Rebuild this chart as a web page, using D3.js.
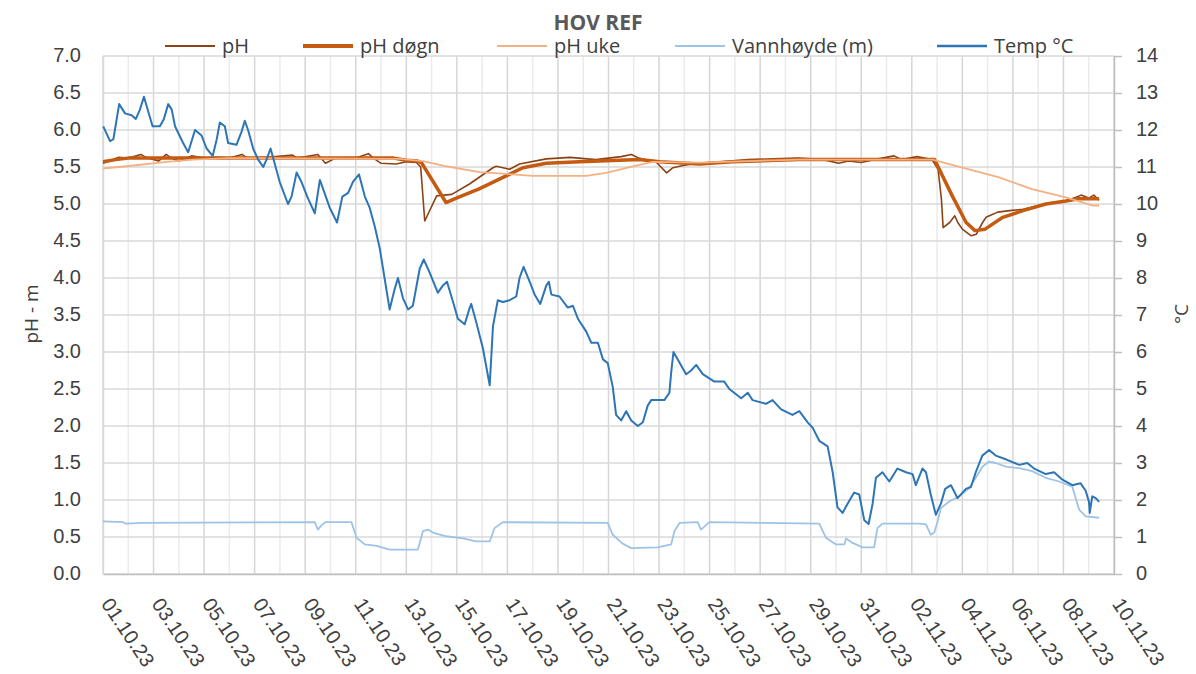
<!DOCTYPE html>
<html>
<head>
<meta charset="utf-8">
<script src="https://cdn.jsdelivr.net/npm/d3@7"></script>
<style>
  body { margin: 0; background: #fff; }
  svg { display: block; font-family: "Open Sans", sans-serif; }
</style>
</head>
<body>
<svg id="chart" width="1196" height="674"></svg>
<script>
// series: [days after 01.10.23 00:00, value]
var tempData = [
  [0.01,12.1],[0.28,11.7],[0.41,11.75],[0.64,12.7],[0.87,12.45],[1.13,12.4],[1.30,12.3],[1.46,12.55],
  [1.62,12.9],[1.79,12.5],[1.96,12.1],[2.25,12.1],[2.41,12.3],[2.58,12.7],[2.72,12.55],[2.85,12.1],
  [3.17,11.65],[3.37,11.4],[3.64,12.0],[3.90,11.85],[4.10,11.5],[4.34,11.3],[4.50,11.75],[4.62,12.2],
  [4.82,12.1],[4.95,11.65],[5.28,11.6],[5.48,11.95],[5.61,12.25],[5.74,12.0],[5.94,11.5],[6.14,11.2],
  [6.34,11.0],[6.47,11.2],[6.63,11.5],[6.73,11.25],[6.99,10.6],[7.32,10.0],[7.46,10.2],[7.66,10.85],
  [7.85,10.6],[8.11,10.15],[8.38,9.75],[8.58,10.65],[8.71,10.4],[8.97,9.9],[9.26,9.5],[9.47,10.2],
  [9.70,10.3],[9.89,10.6],[10.13,10.8],[10.36,10.2],[10.55,9.9],[10.75,9.4],[10.95,8.8],[11.08,8.25],
  [11.34,7.15],[11.54,7.7],[11.67,8.0],[11.87,7.45],[12.07,7.15],[12.26,7.25],[12.53,8.25],[12.69,8.5],
  [12.92,8.15],[13.25,7.6],[13.45,7.8],[13.61,7.9],[13.85,7.35],[14.04,6.9],[14.31,6.75],[14.51,7.2],
  [14.57,7.3],[14.77,6.8],[15.03,6.1],[15.30,5.1],[15.43,6.7],[15.62,7.4],[15.82,7.35],[16.09,7.4],
  [16.35,7.5],[16.48,8.0],[16.64,8.3],[16.88,7.9],[17.08,7.55],[17.30,7.3],[17.54,7.8],[17.64,7.9],
  [17.74,7.55],[18.06,7.5],[18.39,7.2],[18.59,7.25],[18.79,6.9],[19.12,6.55],[19.32,6.25],[19.58,6.25],
  [19.78,5.8],[19.97,5.7],[20.17,5.05],[20.30,4.3],[20.50,4.15],[20.70,4.4],[20.90,4.15],[21.16,4.0],
  [21.36,4.1],[21.55,4.55],[21.69,4.7],[22.21,4.7],[22.41,4.9],[22.48,5.45],[22.57,6.0],[22.74,5.8],
  [23.07,5.4],[23.27,5.5],[23.47,5.65],[23.73,5.4],[24.19,5.2],[24.58,5.2],[24.78,5.0],[25.25,4.75],
  [25.51,4.9],[25.70,4.7],[26.23,4.6],[26.49,4.7],[26.83,4.45],[27.28,4.3],[27.55,4.4],[27.88,4.1],
  [28.08,3.95],[28.34,3.6],[28.67,3.45],[28.87,2.75],[29.06,1.8],[29.26,1.65],[29.46,1.9],[29.72,2.2],
  [29.92,2.15],[30.12,1.45],[30.29,1.35],[30.45,1.9],[30.58,2.6],[30.84,2.75],[31.11,2.5],[31.43,2.85],
  [31.77,2.75],[32.03,2.7],[32.16,2.4],[32.42,2.85],[32.56,2.75],[32.75,2.15],[32.95,1.6],[33.15,1.9],
  [33.32,2.3],[33.55,2.4],[33.81,2.05],[34.14,2.3],[34.34,2.35],[34.53,2.75],[34.79,3.2],[35.06,3.35],
  [35.32,3.2],[35.72,3.1],[36.25,2.95],[36.57,3.0],[36.84,2.85],[37.30,2.7],[37.63,2.75],[37.96,2.55],
  [38.35,2.4],[38.68,2.45],[38.88,2.25],[39.01,1.95],[39.04,1.65],[39.14,2.1],[39.28,2.05],[39.41,1.95]
];

var waterData = [
  [0,0.71],[0.8,0.70],[0.9,0.68],[1.6,0.69],[8.38,0.70],[8.5,0.60],[8.65,0.66],[8.8,0.70],[9.83,0.70],
  [10.03,0.49],[10.36,0.40],[10.83,0.38],[11.34,0.33],[12.46,0.33],[12.66,0.58],[12.86,0.60],
  [13.05,0.56],[13.58,0.51],[14.24,0.48],[14.77,0.44],[15.30,0.44],[15.49,0.62],[15.82,0.70],
  [19.97,0.69],[20.17,0.53],[20.56,0.41],[20.90,0.35],[21.95,0.36],[22.48,0.40],[22.61,0.58],
  [22.81,0.69],[23.53,0.70],[23.66,0.60],[23.99,0.70],[28.34,0.68],[28.60,0.49],[29.00,0.40],
  [29.33,0.40],[29.40,0.48],[29.66,0.42],[30.05,0.36],[30.51,0.36],[30.64,0.62],[30.84,0.68],
  [32.29,0.68],[32.56,0.67],[32.75,0.53],[32.89,0.56],[33.02,0.71],[33.15,0.89],[33.48,0.98],
  [33.88,1.05],[34.27,1.16],[34.53,1.30],[34.79,1.45],[35.06,1.52],[35.32,1.50],[35.72,1.45],
  [36.25,1.43],[36.76,1.39],[37.30,1.30],[37.83,1.25],[38.35,1.18],[38.48,1.03],[38.62,0.87],
  [38.88,0.78],[39.41,0.76]
];

var phData = [
  [0,5.55],[0.4,5.6],[0.6,5.63],[1.0,5.62],[1.5,5.67],[1.7,5.63],[2.2,5.58],[2.5,5.67],[2.7,5.62],
  [3.0,5.58],[3.5,5.65],[4.0,5.62],[4.5,5.63],[5.0,5.62],[5.5,5.67],[5.7,5.62],[6.5,5.63],[7.5,5.66],
  [7.7,5.62],[8.5,5.67],[8.8,5.55],[9.2,5.62],[10.0,5.62],[10.5,5.68],[10.7,5.62],[11.0,5.55],
  [11.6,5.54],[12.0,5.57],[12.4,5.56],[12.57,5.5],[12.73,4.77],[13.2,5.11],[13.8,5.13],[14.5,5.27],
  [15.43,5.49],[15.56,5.51],[16.09,5.47],[16.48,5.54],[17.54,5.61],[18.48,5.63],[19.5,5.6],
  [20.5,5.64],[20.9,5.67],[21.2,5.62],[21.9,5.56],[22.3,5.42],[22.55,5.49],[22.95,5.52],[23.5,5.55],
  [24.5,5.57],[25.5,5.6],[26.5,5.61],[27.5,5.62],[28.5,5.6],[29.1,5.55],[29.5,5.58],[30.0,5.56],
  [30.5,5.6],[31.3,5.65],[31.6,5.6],[32.2,5.64],[32.8,5.6],[33.04,5.47],[33.17,5.07],[33.24,4.68],
  [33.5,4.75],[33.7,4.84],[33.82,4.75],[34.0,4.66],[34.35,4.57],[34.55,4.59],[34.8,4.75],[34.94,4.82],
  [35.07,4.84],[35.4,4.89],[35.87,4.91],[36.4,4.93],[37.3,5.0],[38.1,5.04],[38.5,5.09],[38.7,5.12],
  [39.0,5.08],[39.2,5.12],[39.41,5.05]
];

var phDayData = [
  [0,5.57],[0.5,5.6],[1.0,5.62],[11.5,5.62],[12.0,5.59],[12.45,5.58],[12.6,5.56],[13.57,5.02],
  [14.05,5.09],[14.86,5.20],[15.95,5.38],[16.61,5.49],[17.54,5.55],[18.85,5.57],[21.23,5.60],
  [22.02,5.57],[23.6,5.54],[24.9,5.57],[27.55,5.60],[32.9,5.60],[33.6,5.11],[34.15,4.75],[34.5,4.64],
  [34.9,4.66],[35.6,4.82],[36.4,4.91],[37.3,5.00],[38.1,5.04],[38.6,5.07],[39.41,5.07]
];

var phWeekData = [
  [0,5.48],[0.93,5.51],[2.52,5.57],[3.57,5.60],[5,5.62],[11.74,5.61],[12.66,5.58],[13.58,5.51],
  [14.9,5.43],[16.21,5.40],[17.0,5.38],[19.12,5.38],[19.91,5.42],[20.96,5.51],[21.75,5.57],
  [23.6,5.56],[27.55,5.60],[32.82,5.60],[35.45,5.36],[36.76,5.20],[38.09,5.09],[39.14,4.98],[39.41,4.98]
];

var leftTicks = [0, 0.5, 1, 1.5, 2, 2.5, 3, 3.5, 4, 4.5, 5, 5.5, 6, 6.5, 7];
var rightTicks = [0, 1, 2, 3, 4, 5, 6, 7, 8, 9, 10, 11, 12, 13, 14];

var series = [
  { name: "pH", data: phData, axis: "L", color: "#8a4316", width: 1.6, legendWidth: 2 },
  { name: "pH døgn", data: phDayData, axis: "L", color: "#c55a11", width: 3.5, legendWidth: 4 },
  { name: "pH uke", data: phWeekData, axis: "L", color: "#f4b183", width: 1.8, legendWidth: 2 },
  { name: "Vannhøyde (m)", data: waterData, axis: "L", color: "#9dc3e6", width: 1.8, legendWidth: 2 },
  { name: "Temp °C", data: tempData, axis: "R", color: "#2e75b6", width: 2, legendWidth: 2.5 }
];
var legendX = [165, 303, 497, 675, 937];

var start = new Date(Date.UTC(2023, 9, 1));
var end = new Date(Date.UTC(2023, 10, 10));
var toDate = function (d) { return new Date(start.getTime() + d * 864e5); };

var svg = d3.select("#chart");
var plotLeft = 103, plotRight = 1114, plotTop = 56, plotBottom = 574;

var x = d3.scaleUtc().domain([start, end]).range([plotLeft, plotRight]);
var yL = d3.scaleLinear().domain([0, 7]).range([plotBottom, plotTop]);
var yR = d3.scaleLinear().domain([0, 14]).range([plotBottom, plotTop]);

// gridlines: every day vertical, label days slightly darker
var days = d3.utcDay.range(start, d3.utcDay.offset(end, 1));
svg.append("g")
  .selectAll("line")
  .data(days).enter()
  .append("line")
  .attr("x1", function (d) { return x(d); })
  .attr("x2", function (d) { return x(d); })
  .attr("y1", plotTop)
  .attr("y2", plotBottom)
  .attr("stroke", function (d, i) { return i % 2 ? "#ebebeb" : "#d6d6d6"; })
  .attr("stroke-width", 1.5);

svg.append("g")
  .selectAll("line")
  .data(leftTicks).enter()
  .append("line")
  .attr("x1", plotLeft)
  .attr("x2", plotRight)
  .attr("y1", function (d) { return yL(d); })
  .attr("y2", function (d) { return yL(d); })
  .attr("stroke", "#d9d9d9")
  .attr("stroke-width", 1.5);

// axes
var labelDays = days.filter(function (d, i) { return i % 2 === 0; });
var xAxis = svg.append("g")
  .attr("transform", "translate(0," + plotBottom + ")")
  .call(d3.axisBottom(x).tickValues(labelDays).tickFormat(d3.utcFormat("%d.%m.%y")).tickSize(0));
xAxis.select(".domain").attr("stroke", "#bfbfbf").attr("stroke-width", 1.5);
xAxis.selectAll("text")
  .attr("fill", "#404040")
  .style("font-size", "20px")
  .attr("text-anchor", "start")
  .attr("dy", null)
  .attr("y", 0)
  .attr("transform", "translate(-3,30) rotate(56)");

var yAxisL = svg.append("g")
  .attr("transform", "translate(" + plotLeft + ",0)")
  .call(d3.axisLeft(yL).tickValues(leftTicks).tickFormat(d3.format(".1f")).tickSize(0).tickPadding(22));
yAxisL.select(".domain").attr("stroke", "#d9d9d9").attr("stroke-width", 1.5);
yAxisL.selectAll("text").attr("fill", "#404040").style("font-size", "20px").attr("dy", "0.28em");

var yAxisR = svg.append("g")
  .attr("transform", "translate(" + plotRight + ",0)")
  .call(d3.axisRight(yR).tickValues(rightTicks).tickFormat(d3.format("d")).tickSize(8).tickSizeOuter(0).tickPadding(14));
yAxisR.select(".domain").attr("stroke", "#bfbfbf").attr("stroke-width", 1.5);
yAxisR.selectAll("line").attr("stroke", "#bfbfbf").attr("stroke-width", 1.5);
yAxisR.selectAll("text").attr("fill", "#404040").style("font-size", "20px").attr("dy", "0.28em");

// lines
series.forEach(function (s) {
  var yScale = s.axis === "R" ? yR : yL;
  var line = d3.line()
    .x(function (d) { return x(toDate(d[0])); })
    .y(function (d) { return yScale(d[1]); });
  svg.append("path")
    .datum(s.data)
    .attr("fill", "none")
    .attr("stroke", s.color)
    .attr("stroke-width", s.width)
    .attr("stroke-linejoin", "round")
    .attr("d", line);
});

// title and legend
svg.append("text")
  .attr("x", 598).attr("y", 30)
  .attr("text-anchor", "middle")
  .attr("fill", "#595959")
  .style("font-size", "21px")
  .style("font-weight", "bold")
  .text("HOV REF");

var legend = svg.append("g").selectAll("g")
  .data(series).enter()
  .append("g")
  .attr("transform", function (d, i) { return "translate(" + legendX[i] + ",46)"; });
legend.append("line")
  .attr("x1", 0).attr("x2", 50)
  .attr("stroke", function (d) { return d.color; })
  .attr("stroke-width", function (d) { return d.legendWidth; });
legend.append("text")
  .attr("x", 57).attr("y", 7)
  .attr("fill", "#404040")
  .style("font-size", "20px")
  .text(function (d) { return d.name; });

// axis titles
svg.append("text")
  .attr("transform", "translate(38,314) rotate(-90)")
  .attr("text-anchor", "middle")
  .attr("fill", "#404040")
  .style("font-size", "19px")
  .text("pH - m");
svg.append("text")
  .attr("transform", "translate(1188,314) rotate(-90)")
  .attr("text-anchor", "middle")
  .attr("fill", "#404040")
  .style("font-size", "19px")
  .text("°C");
</script>
</body>
</html>
